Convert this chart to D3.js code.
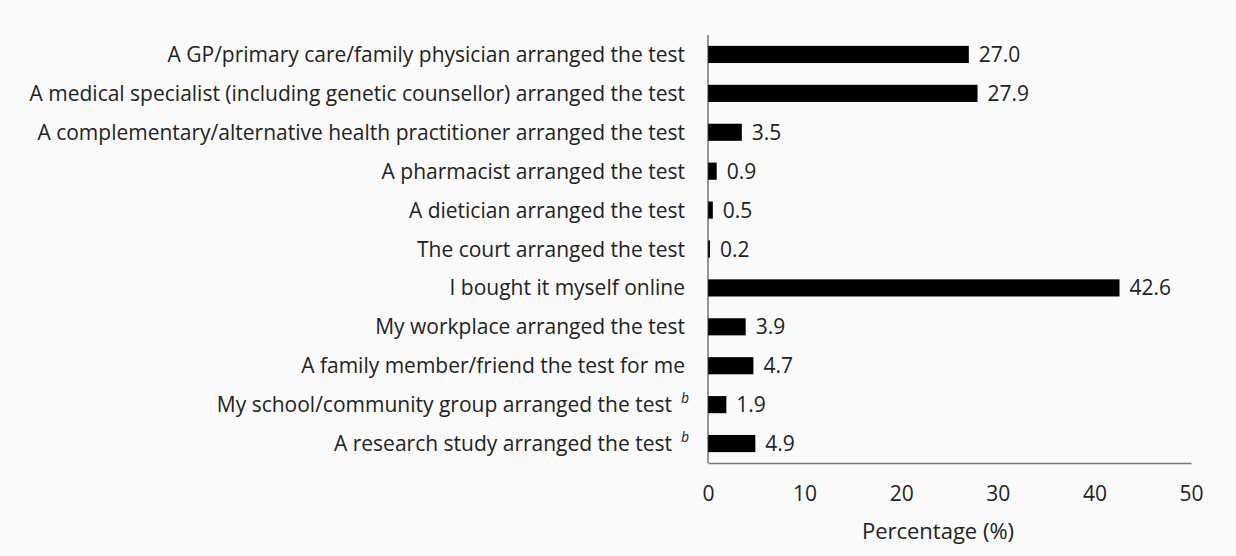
<!DOCTYPE html>
<html>
<head>
<style>
  body { margin: 0; background: #fafafa; }
  svg { display: block; }
  text { font-family: "Open Sans", sans-serif; fill: #222; }
</style>
</head>
<body>
<div id="chart"></div>
<script src="https://cdnjs.cloudflare.com/ajax/libs/d3/7.8.5/d3.min.js"></script>
<script>
var categories = [
  "A GP/primary care/family physician arranged the test",
  "A medical specialist (including genetic counsellor) arranged the test",
  "A complementary/alternative health practitioner arranged the test",
  "A pharmacist arranged the test",
  "A dietician arranged the test",
  "The court arranged the test",
  "I bought it myself online",
  "My workplace arranged the test",
  "A family member/friend the test for me",
  "My school/community group arranged the test",
  "A research study arranged the test"
];
var values = [27.0, 27.9, 3.5, 0.9, 0.5, 0.2, 42.6, 3.9, 4.7, 1.9, 4.9];
var footnotes = ["", "", "", "", "", "", "", "", "", "b", "b"];
var xTicks = [0, 10, 20, 30, 40, 50];

(function() {
  var width = 1236, height = 556;
  var left = 708, right = 1191, top = 35, bottom = 463;
  var fs = "21px";

  var svg = d3.select("#chart").append("svg")
    .attr("width", width).attr("height", height);

  var x = d3.scaleLinear().domain([0, 50]).range([left, right]);
  var y = d3.scaleBand().domain(categories).range([top, bottom]).paddingInner(0.56).paddingOuter(0.28);

  // bars
  svg.selectAll(".bar").data(values).enter().append("rect")
    .attr("class", "bar")
    .attr("x", x(0))
    .attr("y", function(d, i) { return y(categories[i]); })
    .attr("width", function(d) { return Math.max(x(d) - x(0), 1.5); })
    .attr("height", y.bandwidth())
    .attr("fill", "#000");

  // value labels
  svg.selectAll(".val").data(values).enter().append("text")
    .attr("class", "val")
    .attr("x", function(d) { return x(d) + 10; })
    .attr("y", function(d, i) { return y(categories[i]) + y.bandwidth() / 2; })
    .attr("dy", "0.36em")
    .style("font-size", fs)
    .text(function(d) { return d.toFixed(1); });

  // category labels
  svg.selectAll(".cat").data(categories).enter().append("text")
    .attr("class", "cat")
    .attr("x", function(d, i) { return footnotes[i] ? 672 : 685; })
    .attr("y", function(d) { return y(d) + y.bandwidth() / 2; })
    .attr("dy", "0.36em")
    .attr("text-anchor", "end")
    .style("font-size", fs)
    .text(function(d) { return d; });

  // footnote markers
  svg.selectAll(".fn").data(categories.filter(function(d, i) { return footnotes[i]; })).enter().append("text")
    .attr("class", "fn")
    .attr("x", 681)
    .attr("y", function(d) { return y(d) + y.bandwidth() / 2 - 2; })
    .style("font-size", "14px")
    .style("font-style", "italic")
    .text(function(d) { return footnotes[categories.indexOf(d)]; });

  // axes
  var xAxis = svg.append("g")
    .attr("transform", "translate(0," + bottom + ")")
    .call(d3.axisBottom(x).tickValues(xTicks).tickSize(0).tickPadding(23));
  xAxis.select(".domain").attr("stroke", "#777").attr("stroke-width", 1.3);
  xAxis.selectAll("text").style("font-size", fs).style("font-family", "Open Sans, sans-serif").attr("fill", "#222");

  svg.append("line")
    .attr("x1", left).attr("x2", left)
    .attr("y1", top).attr("y2", bottom)
    .attr("stroke", "#333").attr("stroke-width", 1);

  svg.append("text")
    .attr("x", 938)
    .attr("y", 539)
    .attr("text-anchor", "middle")
    .style("font-size", "22px")
    .text("Percentage (%)");
})();
</script>
</body>
</html>
